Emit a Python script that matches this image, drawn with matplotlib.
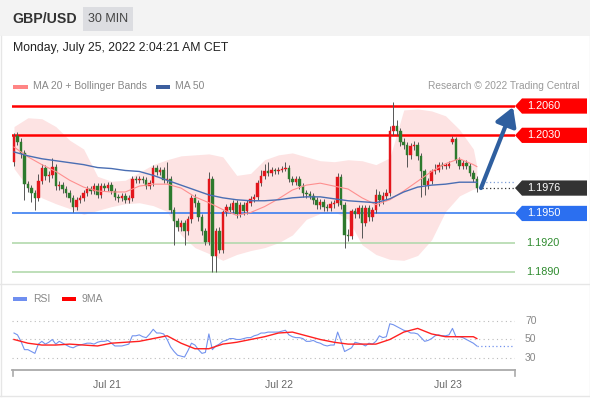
import matplotlib
matplotlib.use('Agg')
import matplotlib.pyplot as plt
from matplotlib.patches import Polygon, Rectangle
from matplotlib.lines import Line2D
from matplotlib.transforms import blended_transform_factory

plt.rcParams['font.family'] = ['Liberation Sans', 'DejaVu Sans']

# ---------------- data ----------------
opens = [1.2003, 1.2029, 1.2023, 1.2012, 1.1980, 1.1976, 1.1971, 1.1966, 1.1983, 1.1997,
         1.1988, 1.1989, 1.1998, 1.1978, 1.1979, 1.1975, 1.1971, 1.1966, 1.1957, 1.1964,
         1.1966, 1.1971, 1.1975, 1.1973, 1.1978, 1.1969, 1.1978, 1.1976, 1.1979, 1.1973,
         1.1967, 1.1966, 1.1968, 1.1964, 1.1966, 1.1985, 1.1984, 1.1985, 1.1984, 1.1978,
         1.1981, 1.1997, 1.1992, 1.1995, 1.1984, 1.1985, 1.1954, 1.1942, 1.1936, 1.1940,
         1.1932, 1.1944, 1.1966, 1.1961, 1.1946, 1.1932, 1.1921, 1.1985, 1.1906, 1.1932,
         1.1913, 1.1951, 1.1957, 1.1954, 1.1961, 1.1949, 1.1959, 1.1952, 1.1961, 1.1965,
         1.1967, 1.1981, 1.1988, 1.1993, 1.1991, 1.1994, 1.1993, 1.1995, 1.1996, 1.1997,
         1.1985, 1.1982, 1.1985, 1.1978, 1.1971, 1.1970, 1.1968, 1.1964, 1.1959, 1.1962,
         1.1957, 1.1956, 1.1960, 1.1961, 1.1987, 1.1959, 1.1928, 1.1927, 1.1952, 1.1949,
         1.1956, 1.1940, 1.1956, 1.1946, 1.1954, 1.1969, 1.1964, 1.1968, 1.1971, 1.2034,
         1.2040, 1.2034, 1.2023, 1.2020, 1.2010, 1.2019, 1.2020, 1.2009, 1.1993, 1.1979,
         1.1983, 1.1993, 1.1995, 1.2000, 1.1999, 1.1999, 1.2023, 1.2026, 1.2005, 1.1999,
         1.2002, 1.1999, 1.1991, 1.1985]
closes = [1.2029, 1.2023, 1.2012, 1.1980, 1.1976, 1.1971, 1.1966, 1.1983, 1.1997, 1.1988,
          1.1989, 1.1998, 1.1978, 1.1979, 1.1975, 1.1971, 1.1966, 1.1957, 1.1964, 1.1966,
          1.1971, 1.1975, 1.1973, 1.1978, 1.1969, 1.1978, 1.1976, 1.1979, 1.1973, 1.1967,
          1.1966, 1.1968, 1.1964, 1.1966, 1.1985, 1.1984, 1.1985, 1.1984, 1.1978, 1.1981,
          1.1997, 1.1992, 1.1995, 1.1984, 1.1985, 1.1954, 1.1942, 1.1936, 1.1940, 1.1932,
          1.1944, 1.1966, 1.1961, 1.1946, 1.1932, 1.1921, 1.1985, 1.1906, 1.1932, 1.1913,
          1.1951, 1.1957, 1.1954, 1.1961, 1.1949, 1.1959, 1.1952, 1.1961, 1.1965, 1.1967,
          1.1981, 1.1988, 1.1993, 1.1991, 1.1994, 1.1993, 1.1995, 1.1996, 1.1997, 1.1985,
          1.1982, 1.1985, 1.1978, 1.1971, 1.1970, 1.1968, 1.1964, 1.1959, 1.1962, 1.1957,
          1.1956, 1.1960, 1.1961, 1.1987, 1.1959, 1.1928, 1.1927, 1.1952, 1.1949, 1.1956,
          1.1940, 1.1956, 1.1946, 1.1954, 1.1969, 1.1964, 1.1968, 1.1971, 1.2034, 1.2040,
          1.2034, 1.2023, 1.2020, 1.2010, 1.2019, 1.2020, 1.2009, 1.1993, 1.1979, 1.1983,
          1.1993, 1.1995, 1.2000, 1.1999, 1.1999, 1.2001, 1.2026, 1.2005, 1.1999, 1.2002,
          1.1999, 1.1991, 1.1985, 1.1976]
highs = [1.2032, 1.2033, 1.2027, 1.2015, 1.1983, 1.1979, 1.1974, 1.1990, 1.2001, 1.2000,
         1.1993, 1.2007, 1.2001, 1.1983, 1.1982, 1.1978, 1.1974, 1.1969, 1.1967, 1.1969,
         1.1974, 1.1978, 1.1978, 1.1981, 1.1981, 1.1981, 1.1981, 1.1982, 1.1982, 1.1976,
         1.1970, 1.1971, 1.1971, 1.1969, 1.1988, 1.1988, 1.1988, 1.1988, 1.1987, 1.1984,
         1.2000, 1.2000, 1.1998, 1.1998, 1.2003, 1.1988, 1.1957, 1.1945, 1.1943, 1.1943,
         1.1947, 1.1969, 1.1970, 1.1964, 1.1949, 1.1935, 1.1992, 1.1988, 1.1935, 1.1936,
         1.1954, 1.1960, 1.1961, 1.1964, 1.1964, 1.1962, 1.1962, 1.1964, 1.1968, 1.1970,
         1.1984, 1.1995, 1.2001, 1.2003, 1.1998, 1.1997, 1.1998, 1.1999, 1.2003, 1.2000,
         1.1988, 1.1988, 1.1988, 1.1981, 1.1974, 1.1973, 1.1971, 1.1967, 1.1965, 1.1965,
         1.1960, 1.1963, 1.1964, 1.1991, 1.1990, 1.1962, 1.1934, 1.1955, 1.1956, 1.1959,
         1.1959, 1.1959, 1.1959, 1.1957, 1.1975, 1.1973, 1.1972, 1.1975, 1.2040, 1.2064,
         1.2046, 1.2037, 1.2027, 1.2023, 1.2022, 1.2024, 1.2023, 1.2012, 1.1996, 1.1986,
         1.1996, 1.2001, 1.2003, 1.2003, 1.2002, 1.2004, 1.2029, 1.2028, 1.2008, 1.2005,
         1.2005, 1.2002, 1.1994, 1.1988]
lows = [1.1999, 1.2020, 1.2007, 1.1964, 1.1972, 1.1962, 1.1954, 1.1963, 1.1980, 1.1984,
        1.1982, 1.1986, 1.1974, 1.1974, 1.1971, 1.1967, 1.1962, 1.1951, 1.1954, 1.1961,
        1.1963, 1.1968, 1.1970, 1.1970, 1.1966, 1.1966, 1.1973, 1.1973, 1.1970, 1.1964,
        1.1962, 1.1963, 1.1961, 1.1961, 1.1963, 1.1981, 1.1981, 1.1981, 1.1975, 1.1975,
        1.1978, 1.1989, 1.1989, 1.1981, 1.1981, 1.1950, 1.1918, 1.1932, 1.1932, 1.1918,
        1.1928, 1.1940, 1.1957, 1.1942, 1.1928, 1.1918, 1.1918, 1.1890, 1.1890, 1.1909,
        1.1910, 1.1947, 1.1950, 1.1950, 1.1945, 1.1946, 1.1948, 1.1949, 1.1958, 1.1962,
        1.1964, 1.1978, 1.1985, 1.1988, 1.1988, 1.1990, 1.1990, 1.1992, 1.1993, 1.1982,
        1.1979, 1.1979, 1.1975, 1.1967, 1.1966, 1.1965, 1.1960, 1.1955, 1.1955, 1.1953,
        1.1952, 1.1952, 1.1956, 1.1958, 1.1955, 1.1915, 1.1922, 1.1924, 1.1945, 1.1945,
        1.1925, 1.1937, 1.1942, 1.1942, 1.1950, 1.1958, 1.1960, 1.1964, 1.1968, 1.2030,
        1.2030, 1.2019, 1.2016, 1.1998, 1.2006, 1.2015, 1.2005, 1.1967, 1.1969, 1.1975,
        1.1980, 1.1990, 1.1992, 1.1996, 1.1996, 1.1997, 1.2021, 1.2002, 1.1996, 1.1996,
        1.1996, 1.1988, 1.1982, 1.1972]

# indicator samples (candle index)
band_idx = [0, 4, 8, 12, 16, 20, 24, 28, 32, 36, 40, 44, 48, 52, 56, 60, 64, 68,
            72, 76, 80, 84, 88, 92, 96, 100, 104, 108, 112, 116, 120, 124, 128, 132, 133]
bb_upper = [1.2039, 1.2048, 1.2047, 1.2039, 1.2025, 1.2016, 1.1988, 1.1983, 1.1984, 1.1992,
            1.2000, 1.2005, 1.2009, 1.2010, 1.2011, 1.2008, 1.1989, 1.1991, 1.2005, 1.2010,
            1.2012, 1.2008, 1.2004, 1.2003, 1.2005, 1.2004, 1.2000, 1.2007, 1.2056, 1.2057,
            1.2055, 1.2050, 1.2036, 1.2016, 1.1998]
bb_lower = [1.1996, 1.1977, 1.1966, 1.1960, 1.1955, 1.1949, 1.1953, 1.1957, 1.1960, 1.1961,
            1.1958, 1.1952, 1.1928, 1.1915, 1.1909, 1.1902, 1.1908, 1.1912, 1.1915, 1.1920,
            1.1928, 1.1944, 1.1950, 1.1952, 1.1944, 1.1918, 1.1908, 1.1903, 1.1902, 1.1907,
            1.1923, 1.1952, 1.1968, 1.1975, 1.1975]
ma20 = [1.2018, 1.2008, 1.2000, 1.1993, 1.1984, 1.1977, 1.1973, 1.1972, 1.1972, 1.1978,
        1.1980, 1.1980, 1.1976, 1.1967, 1.1961, 1.1954, 1.1948, 1.1951, 1.1957, 1.1965,
        1.1974, 1.1979, 1.1981, 1.1978, 1.1975, 1.1966, 1.1959, 1.1964, 1.1973, 1.1983,
        1.1993, 1.2001, 1.2006, 1.2000, 1.1998]
ma50 = [1.2013, 1.2009, 1.2006, 1.2004, 1.2002, 1.2000, 1.1997, 1.1996, 1.1994, 1.1993,
        1.1989, 1.1984, 1.1979, 1.1974, 1.1969, 1.1966, 1.1964, 1.1963, 1.1963, 1.1964,
        1.1966, 1.1967, 1.1967, 1.1965, 1.1963, 1.1962, 1.1961, 1.1965, 1.1972, 1.1977,
        1.1979, 1.1980, 1.1982, 1.1982, 1.1982]
rsi = [57, 55, 48, 39, 39, 37, 35, 45, 48, 45,
       47, 50, 45, 48, 46, 44, 42, 41, 43, 44,
       45, 46, 46, 45, 47, 48, 48, 49, 46, 43,
       43, 43, 44, 45, 54, 54, 55, 53, 52, 56,
       61, 57, 57, 56, 50, 42, 37, 33, 32, 31,
       38, 46, 44, 39, 35, 36, 56, 39, 43, 45,
       48, 49, 51, 51, 50, 50, 51, 52, 52, 54,
       55, 57, 57, 58, 58, 58, 58, 59, 60, 55,
       53, 52, 52, 51, 48, 48, 49, 47, 46, 44,
       43, 44, 44, 58, 48, 37, 39, 41, 47, 46,
       45, 43, 46, 45, 48, 54, 52, 53, 67, 66,
       64, 62, 60, 59, 57, 57, 56, 52, 48, 49,
       51, 54, 55, 54, 54, 55, 62, 53, 53, 52,
       50, 48, 46, 43]
rsi_ma9 = [50, 46, 44, 44, 45, 44, 43, 46, 47, 48, 51, 54, 46, 40, 40, 45, 47, 50,
           53, 57, 58, 54, 50, 47, 45, 45, 45, 50, 58, 62, 56, 53, 53, 53, 51]

resistances = [1.2060, 1.2030]
pivot = 1.1950
supports = [1.1920, 1.1890]
target = 1.2059
day_labels = ['Jul 21', 'Jul 22', 'Jul 23']
day_pos = [26.7, 76.1, 124.7]
rsi_levels = [70, 50, 30]

# ---------------- figure ----------------
W, H = 590, 400
fig = plt.figure(figsize=(W / 100, H / 100), dpi=100)
fig.patch.set_facecolor('white')


def fx(px):
    return px / W


def fy(py):
    return 1 - py / H


# header
fig.add_artist(Rectangle((0, fy(36)), 1, 36 / H, transform=fig.transFigure,
                         facecolor='#f3f3f3', edgecolor='none', zorder=0))
fig.add_artist(Rectangle((fx(83), fy(31)), 50 / W, 24 / H, transform=fig.transFigure,
                         facecolor='#dcdde1', edgecolor='none', zorder=1))
fig.text(fx(12), fy(19), 'GBP/USD', fontsize=10.2, fontweight='bold', color='#333333',
         va='center', ha='left')
fig.text(fx(108), fy(19), '30 MIN', fontsize=9, color='#444444', va='center', ha='center')
fig.text(fx(13), fy(48), 'Monday, July 25, 2022 2:04:21 AM CET', fontsize=8.8,
         color='#222222', va='center', ha='left')

# frame
for seg in [((0.5, 0.5), (36, 396)), ((589.5, 589.5), (36, 396)), ((0, 590), (396, 396)),
            ((0, 590), (284, 284))]:
    fig.add_artist(Line2D([fx(seg[0][0]), fx(seg[0][1])], [fy(seg[1][0]), fy(seg[1][1])],
                          transform=fig.transFigure, color='#e6e6e6', lw=1.0))

# legend main
fig.add_artist(Rectangle((fx(13), fy(88.5)), 15 / W, 4 / H, transform=fig.transFigure,
                         facecolor='#ff8585', edgecolor='none'))
fig.text(fx(33), fy(86), 'MA 20 + Bollinger Bands', fontsize=7.5, color='#888888',
         va='center', ha='left')
fig.add_artist(Rectangle((fx(156), fy(88.5)), 14 / W, 4 / H, transform=fig.transFigure,
                         facecolor='#3d5f9e', edgecolor='none'))
fig.text(fx(175), fy(86), 'MA 50', fontsize=7.5, color='#888888', va='center', ha='left')
fig.text(fx(580), fy(86), 'Research \u00a9 2022 Trading Central', fontsize=7.3,
         color='#9a9a9a', va='center', ha='right')

# ---------------- main axes ----------------
ax = fig.add_axes([fx(12), fy(278), 503 / W, 183 / H])
ax.set_xlim(-0.575, 143.97)
ax.set_ylim(1.18839, 1.20713)
ax.axis('off')

ax.fill_between(band_idx, bb_lower, bb_upper, color='#fde3e3', lw=0, zorder=1)

for r in resistances:
    ax.axhline(r, color='#ff0000', lw=1.8, zorder=2)
ax.axhline(pivot, color='#3b7ef0', lw=1.2, zorder=2)
for s in supports:
    ax.axhline(s, color='#b3d9ad', lw=1.2, zorder=2)

n = len(closes)
idx = list(range(n))
up_col, dn_col = '#e3161c', '#2d7a2d'
cols = [up_col if c >= o else dn_col for o, c in zip(opens, closes)]
ax.vlines(idx, lows, highs, color='#555555', lw=0.7, zorder=3)
bottoms = [min(o, c) for o, c in zip(opens, closes)]
heights = [max(abs(c - o), 0.00008) for o, c in zip(opens, closes)]
ax.bar(idx, heights, bottom=bottoms, width=0.72, color=cols, edgecolor=cols, lw=0.3,
       zorder=4)

ax.plot(band_idx, ma20, color='#ff8f8f', lw=0.8, zorder=5)
ax.plot(band_idx, ma50, color='#4a6eb3', lw=1.0, zorder=5)

# dotted extensions
ax.plot([band_idx[-1] + 1.5, 143.9], [ma50[-1], ma50[-1]], ls=(0, (1, 2)), color='#7f9fd6',
        lw=0.9, zorder=5)
ax.plot([n - 1 + 1.5, 143.9], [closes[-1], closes[-1]], ls=(0, (1, 2)), color='#333333',
        lw=0.9, zorder=5)

# arrow
ax.annotate('', xy=(143.4, target), xytext=(n - 1 + 1.2, closes[-1]),
            arrowprops=dict(arrowstyle='-|>,head_length=0.85,head_width=0.5',
                            color='#2f5f9f', lw=3.0, mutation_scale=13,
                            shrinkA=0, shrinkB=0), zorder=6, annotation_clip=False)

# label boxes
trans = blended_transform_factory(fig.transFigure, ax.transData)
hh = 0.00078


def label_box(price, face, txt, tcol='white'):
    pts = [(fx(515), price), (fx(522), price + hh), (fx(587), price + hh),
           (fx(587), price - hh), (fx(522), price - hh)]
    ax.add_patch(Polygon(pts, closed=True, transform=trans, facecolor=face,
                         edgecolor='none', zorder=7, clip_on=False))
    ax.text(fx(527), price, txt, transform=trans, fontsize=7.8, color=tcol,
            va='center', ha='left', zorder=8, clip_on=False)


for r in resistances:
    label_box(r, '#ff0000', f'{r:.4f}')
label_box(closes[-1], '#333333', f'{closes[-1]:.4f}')
label_box(pivot, '#2b6ff0', f'{pivot:.4f}')
for s in supports:
    ax.text(fx(526), s, f'{s:.4f}', transform=trans, fontsize=7.8, color='#2e8b2e',
            va='center', ha='left')

# ---------------- RSI axes ----------------
ax2 = fig.add_axes([fx(12), fy(370), 503 / W, 65 / H])
ax2.set_xlim(-0.575, 143.97)
ax2.set_ylim(17.0, 87.3)
for sp in ['top', 'right', 'left']:
    ax2.spines[sp].set_visible(False)
ax2.spines['bottom'].set_color('#aaaaaa')
ax2.spines['bottom'].set_linewidth(1.3)
ax2.set_yticks([])
ax2.set_xticks(day_pos)
ax2.set_xticklabels(day_labels, fontsize=7.5, color='#666666')
ax2.tick_params(axis='x', length=0, pad=7)
ax2.patch.set_alpha(0)

for lv in rsi_levels:
    ax2.axhline(lv, color='#bbbbbb', lw=0.8, ls=(0, (1, 3)), zorder=1)
    ax2.text(fx(525), lv, str(lv), transform=blended_transform_factory(fig.transFigure,
             ax2.transData), fontsize=7.5, color='#888888', va='center', ha='left')

ax2.plot(idx, rsi, color='#7393ee', lw=0.8, zorder=3)
ax2.plot(band_idx, rsi_ma9, color='#ff2020', lw=1.0, zorder=4)
ax2.plot([n - 1, 143.4], [rsi[-1], rsi[-1]], ls=(0, (1, 2)), color='#7393ee', lw=0.9,
         zorder=3)

# end ticks of x axis
for xp in (12.5, 514.5):
    fig.add_artist(Line2D([fx(xp), fx(xp)], [fy(370), fy(376)], transform=fig.transFigure,
                          color='#aaaaaa', lw=1.2))

# RSI legend
fig.add_artist(Rectangle((fx(13), fy(301)), 14 / W, 4 / H, transform=fig.transFigure,
                         facecolor='#6f8ff0', edgecolor='none'))
fig.text(fx(33), fy(299), 'RSI', fontsize=7.5, color='#888888', va='center', ha='left')
fig.add_artist(Rectangle((fx(62), fy(301)), 14 / W, 4 / H, transform=fig.transFigure,
                         facecolor='#ff0000', edgecolor='none'))
fig.text(fx(82), fy(299), '9MA', fontsize=7.5, color='#888888', va='center', ha='left')

fig.savefig('out.png', dpi=100)
